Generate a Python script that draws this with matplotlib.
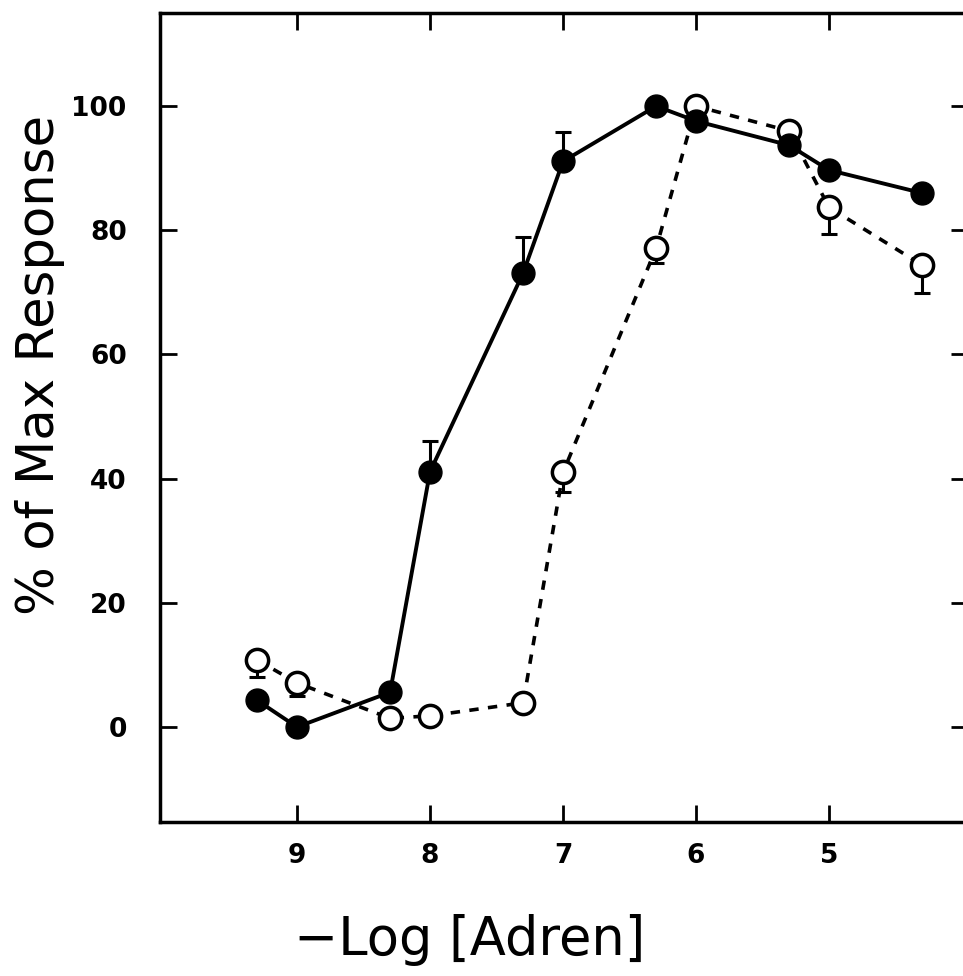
import numpy as np
import matplotlib.pyplot as plt

# -log [Adren] concentrations
log_adren = [9.3, 9.0, 8.3, 8.0, 7.3, 7.0, 6.3, 6.0, 5.3, 5.0, 4.3]

# filled circles (solid line)
filled = [4.3, 0.0, 5.6, 41.1, 73.1, 91.1, 100.0, 97.6, 93.7, 89.7, 86.0]
filled_err_up = [0, 0, 0, 4.9, 5.8, 4.7, 0, 0, 0, 0, 0]

# open circles (dashed line)
opened = [10.8, 7.1, 1.4, 1.8, 3.9, 41.0, 77.1, 100.0, 96.0, 83.7, 74.4]
open_err_down = [2.8, 2.1, 0, 0, 0, 3.2, 2.4, 0, 0, 4.3, 4.5]

x_ticks = [9, 8, 7, 6, 5]
y_ticks = [0, 20, 40, 60, 80, 100]

W, H = 963, 976
fig = plt.figure(figsize=(W / 100, H / 100), dpi=100)
ax = fig.add_axes([160 / W, (H - 822) / H, (968 - 160) / W, (822 - 13) / H])

# open series first, filled drawn on top
ax.errorbar(log_adren, opened, yerr=[open_err_down, [0] * len(opened)],
            fmt='none', ecolor='k', elinewidth=2.2, capsize=6, capthick=2.2, zorder=2)
ax.plot(log_adren, opened, color='k', lw=2.6, ls=(0, (2.6, 2.6)), zorder=1)
ax.plot(log_adren, opened, ls='none', marker='o', ms=16, mfc='white',
        mec='k', mew=2.5, zorder=3)

ax.errorbar(log_adren, filled, yerr=[[0] * len(filled), filled_err_up],
            fmt='none', ecolor='k', elinewidth=2.2, capsize=6, capthick=2.2, zorder=4)
ax.plot(log_adren, filled, color='k', lw=2.8, zorder=4)
ax.plot(log_adren, filled, ls='none', marker='o', ms=16.5, mfc='k',
        mec='k', zorder=5)

ax.set_xlim(10.03, 3.955)
ax.set_ylim(-15.3, 115)
ax.set_xticks(x_ticks)
ax.set_yticks(y_ticks)
ax.tick_params(direction='in', length=12, width=2, top=True, right=True,
               labelsize=19)
ax.tick_params(axis='y', pad=24)
ax.tick_params(axis='x', pad=15)
for lab in ax.get_xticklabels() + ax.get_yticklabels():
    lab.set_fontweight('bold')
for sp in ax.spines.values():
    sp.set_linewidth(2.5)

fig.text(40 / W, 1 - 365 / H, '% of Max Response', rotation=90,
         ha='center', va='center', fontsize=37)
fig.text(470 / W, 1 - 940 / H, '\u2212Log [Adren]', ha='center', va='center',
         fontsize=38)

fig.savefig('out.png', dpi=100)
